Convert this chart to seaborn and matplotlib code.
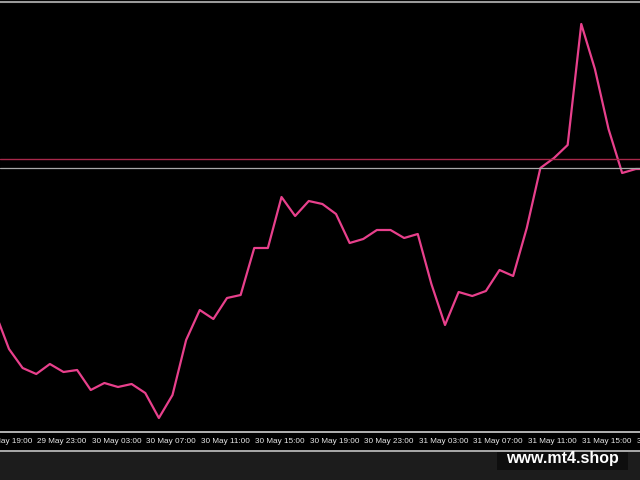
import pandas as pd
import matplotlib
matplotlib.use('Agg')
import matplotlib.pyplot as plt
from matplotlib.patches import Rectangle
from matplotlib.lines import Line2D
from matplotlib.transforms import blended_transform_factory
import seaborn as sns

# hours counted from 29 May 00:00, one close per hour
hours = list(range(20, 69))
close = [119, 83, 64, 58, 68, 60, 62, 42, 49, 45, 48, 39, 14, 37, 92, 122,
         113, 134, 137, 184, 184, 235, 216, 231, 228, 218, 189, 193, 202, 202,
         194, 198, 148, 107, 140, 136, 141, 162, 156, 204, 264, 274, 287, 408,
         363, 303, 259, 263, 263]

level_red = 273
level_grey = 264

tick_hours = [19, 23, 27, 31, 35, 39, 43, 47, 51, 55, 59, 63, 67]
tick_labels = ['29 May 19:00', '29 May 23:00', '30 May 03:00', '30 May 07:00',
               '30 May 11:00', '30 May 15:00', '30 May 19:00', '30 May 23:00',
               '31 May 03:00', '31 May 07:00', '31 May 11:00', '31 May 15:00',
               '31 May 19:00']

df = pd.DataFrame({'hour': hours, 'close': close})

sns.set_style('dark')
plt.rcParams['font.family'] = ['Liberation Sans', 'DejaVu Sans']

fig = plt.figure(figsize=(6.4, 4.8), dpi=100, facecolor='black')
ax = fig.add_axes([0, 48 / 480, 1, 430 / 480])
ax.set_facecolor('black')

sns.lineplot(data=df, x='hour', y='close', ax=ax, color='#e8408c', linewidth=1.6)
ax.axhline(level_red, color='#a8284a', linewidth=1.0)
ax.axhline(level_grey, color='#a8a8a8', linewidth=0.9)

ax.set_xlim(20.34, 67.31)
ax.set_ylim(0, 430)
ax.set_xlabel('')
ax.set_ylabel('')
ax.set_yticks([])
ax.grid(False)

for side in ['left', 'right']:
    ax.spines[side].set_visible(False)
ax.spines['top'].set_color('#9a9a9a')
ax.spines['top'].set_linewidth(1.5)
ax.spines['bottom'].set_color('#d0d0d0')
ax.spines['bottom'].set_linewidth(1.2)

# time scale along the bottom: tick mark + left-aligned label
ax.set_xticks([h for h in tick_hours if 20.34 <= h <= 67.31])
ax.set_xticklabels([])
ax.tick_params(axis='x', direction='out', length=4, width=0.8, color='#d0d0d0')
trans = blended_transform_factory(ax.transData, ax.transAxes)
for h, lab in zip(tick_hours, tick_labels):
    ax.text(h + 0.06, -0.021, lab, transform=trans, ha='left', va='center',
            fontsize=5.9, color='#e8e8e8', clip_on=False)

# bottom panel and watermark
fig.patches.append(Rectangle((0, 0), 1, 28 / 480, transform=fig.transFigure,
                             facecolor='#1c1c1c', edgecolor='none', zorder=0))
fig.lines.append(Line2D([0, 1], [29 / 480, 29 / 480], transform=fig.transFigure,
                        color='#c8c8c8', linewidth=1.2))
fig.patches.append(Rectangle((497 / 640, 10 / 480), 131 / 640, 20 / 480,
                             transform=fig.transFigure, facecolor='#0e0e0e',
                             edgecolor='none', zorder=1))
fig.text(562 / 640, 21 / 480, 'www.mt4.shop', ha='center', va='center',
         fontsize=11.5, fontweight='bold', color='white', zorder=2)

fig.savefig('out.png', dpi=100, facecolor='black')
